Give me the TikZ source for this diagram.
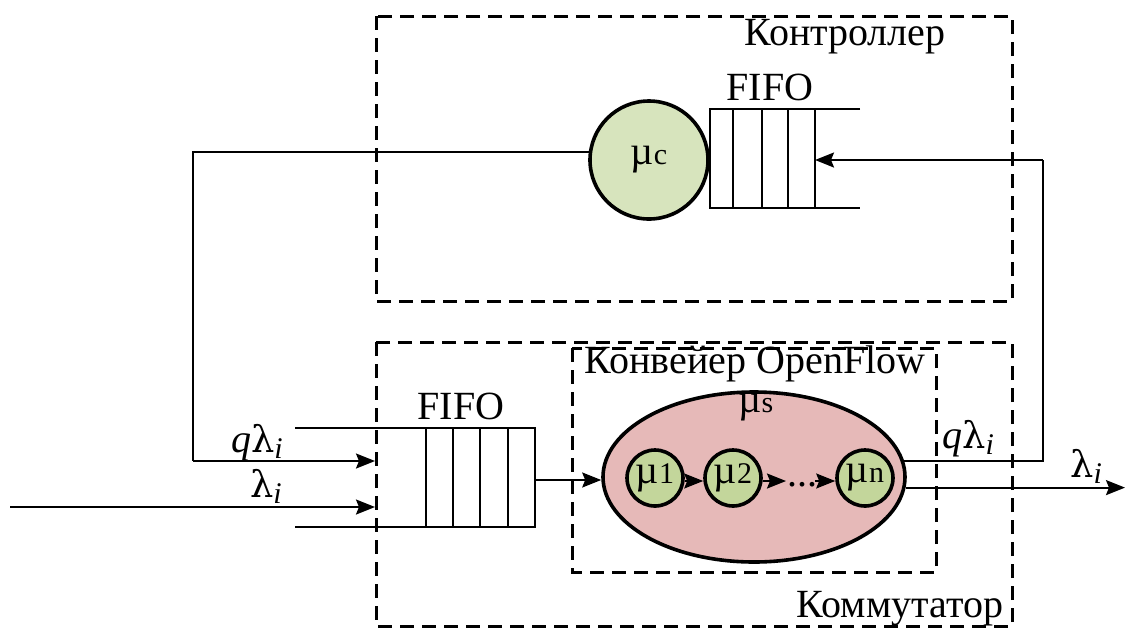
\documentclass[tikz,border=0pt]{standalone}
\usepackage{fontspec}
\setmainfont{Liberation Serif}
\newfontfamily\grk[Scale=0.92]{DejaVu Serif}
\usetikzlibrary{arrows.meta,shapes.geometric}

% small index set on the base line
\newcommand\idx[1]{{\fontsize{15}{15}\selectfont #1}}
% service rate sign
\newcommand\mmu{µ}
% arrival rate sign
\newcommand\lam{{\grk λ}}
% italic lowered index i
\newcommand\isub{\raisebox{-3pt}{\fontsize{15}{15}\selectfont\itshape i}}

\begin{document}
\begin{tikzpicture}[x=0.5pt,y=-0.5pt,
  every node/.style={font=\fontsize{20}{23}\selectfont, inner sep=0pt},
  area/.style={draw, dash pattern=on 7pt off 4pt, line width=1.5pt},
  ln/.style={line width=1pt},
  arr/.style={ln, -{Stealth[length=9.5pt,width=7.5pt,inset=1.5pt]}},
  srv/.style={circle, draw, line width=1.8pt, inner sep=0pt},
  ctrlsrv/.style={srv, minimum size=59pt, fill=ctrlgreen},
  stage/.style={srv, minimum size=28pt, fill=stagegreen},
  pipe/.style={ellipse, draw, line width=1.8pt, minimum width=151pt, minimum height=85pt, fill=pipepink},
  lbl/.style={anchor=base},
]
\definecolor{ctrlgreen}{HTML}{D7E4BD}
\definecolor{stagegreen}{HTML}{C3D69B}
\definecolor{pipepink}{HTML}{E6B9B8}

\useasboundingbox (0,0) rectangle (1125,628);

% ---------- controller ----------
\draw[area] (376,16) rectangle (1012,301);
\node[lbl] (ctrlname) at (845,45) {Контроллер};

% controller queue
\draw[ln] (860,109) -- (710,109) -- (710,208) -- (860,208);
\foreach \x in {733,762,788,815} \draw[ln] (\x,109) -- (\x,208);
\node[lbl] (fifoC) at (770,100) {FIFO};
\coordinate (qCin) at (815,160);

\node[ctrlsrv] (muc) at (649,160) {\mmu\idx{c}};

% ---------- switch ----------
\draw[area] (376,342) rectangle (1012,626);
\node[lbl] (swname) at (900,617) {Коммутатор};

\draw[area] (572,348) rectangle (936,572);
\node[lbl] (plname) at (755,373) {Конвейер OpenFlow};

% switch queue
\draw[ln] (295,428) -- (535,428) -- (535,527) -- (295,527);
\foreach \x in {426,453,480,508} \draw[ln] (\x,428) -- (\x,527);
\node[lbl] (fifoS) at (461,419) {FIFO};
\coordinate (qSout) at (535,480);

% pipeline
\node[pipe] (ell) at (754,477) {};
\node[lbl] (mus) at (756,412) {\mmu\idx{s}};
\node[stage] (m1) at (655,478) {\mmu\idx{1}};
\node[stage] (m2) at (733,478) {\mmu\idx{2}};
\node[stage] (mn) at (865,478) {\mmu\idx{n}};
\node[lbl] (dots) at (802,486) {...};
\coordinate (d0) at (786,481);
\coordinate (d1) at (815,481);

\draw[arr] (qSout) -- (ell.west |- qSout);
\draw[arr] (m1.east |- d0) -- (m2.west |- d0);
\draw[arr] (m2.east |- d0) -- (d0);
\draw[arr] (d1) -- (mn.west |- d1);

% ---------- flows ----------
\coordinate (inA) at (375,461);
\coordinate (inB) at (375,507);
\coordinate (src) at (10,507);
\coordinate (fbL) at (193,461);
\coordinate (fbR) at (1043,461);
\coordinate (sink) at (1125,488);

\draw[ln] (muc.172) -- (muc.172 -| fbL) -- (fbL);
\draw[arr] (fbL) -- (inA);
\draw[arr] (src) -- (inB);

\draw[ln] (ell.6) -- (ell.6 -| fbR) -- (fbR |- qCin);
\draw[arr] (fbR |- qCin) -- (qCin);
\draw[arr] (ell.-4) -- (ell.-4 -| sink);

\node[lbl] (lq1) at (257,452) {\itshape q\upshape\lam\isub};
\node[lbl] (ll1) at (266,497) {\lam\isub};
\node[lbl] (lq2) at (968,448) {\itshape q\upshape\lam\isub};
\node[lbl] (ll2) at (1086,477) {\lam\isub};
\end{tikzpicture}
\end{document}
